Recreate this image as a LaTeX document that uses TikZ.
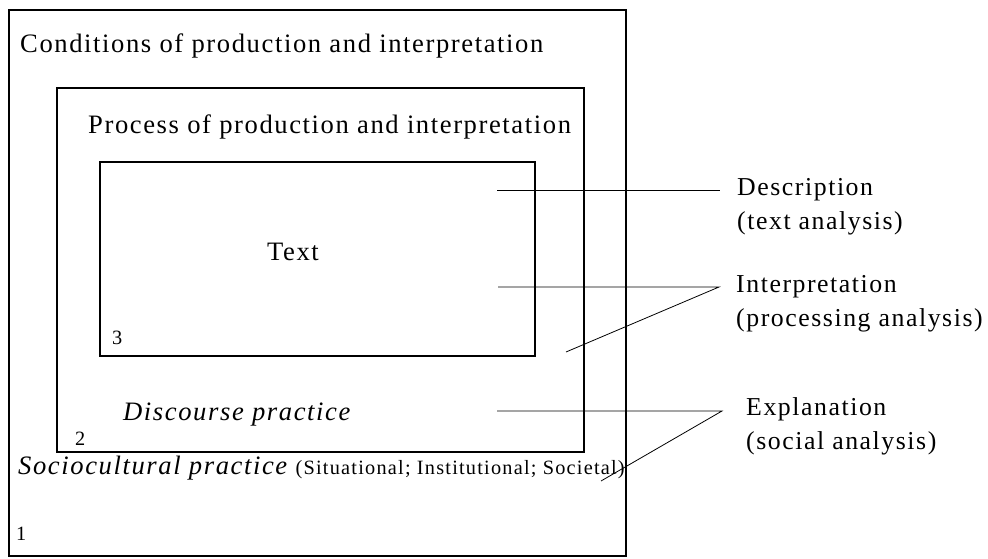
\documentclass[tikz,border=0pt]{standalone}
\usepackage{fontspec}
\setmainfont{Liberation Serif}[LetterSpace=6]
\usetikzlibrary{positioning}

\begin{document}
\begin{tikzpicture}[x=1pt,y=-1pt,
  box/.style={line width=1.6pt},
  lead/.style={line width=0.8pt},
  big/.style={font=\fontsize{26.6}{34}\selectfont, inner sep=0pt, anchor=base west},
  side/.style={font=\fontsize{25.8}{34}\selectfont, inner sep=0pt, anchor=base west, align=left},
  small/.style={font=\fontsize{20.3}{24}\selectfont, inner sep=0pt, anchor=base west}]
  \useasboundingbox (0,0) rectangle (988,559);
  \draw[box] (9,10) rectangle (626,556);
  \draw[box] (57,88) rectangle (584,452);
  \draw[box] (100,162) rectangle (535,356);

  \node[big] (cond) at (20,53) {Conditions of production and interpretation};
  \node[big] (proc) at (88,134) {Process of production and interpretation};
  \node[big, anchor=base] (text) at (293,260) {Text};
  \node[small] (n3) at (112,344) {3};
  \node[big] (disc) at (123,420) {\itshape Discourse practice};
  \node[small] (n2) at (75,445) {2};
  \node[big] (soc) at (18,474) {\itshape Sociocultural practice};
  \node[small, right=8pt of soc.base east, anchor=base west] (sit) {(Situational; Institutional; Societal)};
  \node[small] (n1) at (16,540) {1};

  \node[side] (desc) at (737,229) {Description\\(text analysis)};
  \node[side] (interp) at (736,326) {Interpretation\\(processing analysis)};
  \node[side] (expl) at (746,449) {Explanation\\(social analysis)};

  \coordinate (d1) at (497,190);
  \coordinate (dj) at (720,190);
  \coordinate (i1) at (498,287);
  \coordinate (ij) at (719,287);
  \coordinate (i2) at (566,352);
  \coordinate (e1) at (497,411);
  \coordinate (ej) at (722,411);
  \coordinate (e2) at (601,481);
  \draw[lead] (d1) -- (dj);
  \draw[lead] (i1) -- (ij) -- (i2);
  \draw[lead] (e1) -- (ej) -- (e2);
\end{tikzpicture}
\end{document}
